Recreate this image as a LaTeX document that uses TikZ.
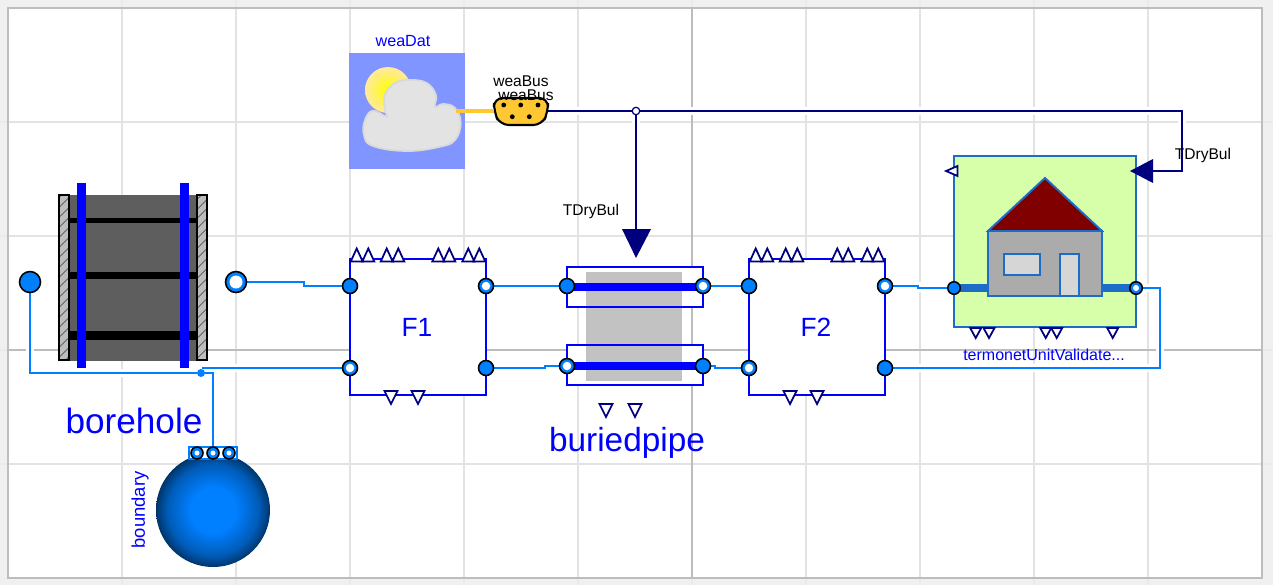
\documentclass[tikz,border=0pt]{standalone}
\usepackage{fontspec}
\setmainfont{Liberation Sans}
\usetikzlibrary{backgrounds,patterns.meta}
\definecolor{gridgray}{HTML}{E3E3E3}
\definecolor{gridout}{HTML}{EAEAEA}
\definecolor{framegray}{HTML}{BDBDBD}
\definecolor{fluid}{HTML}{007FFF}
\definecolor{navy}{HTML}{00007F}
\definecolor{houseblue}{HTML}{1C6CC8}
\definecolor{housegreen}{HTML}{D7FFAA}
\definecolor{skyblue}{HTML}{8095FF}
\definecolor{busorange}{HTML}{FFC832}
\definecolor{sunedge}{HTML}{FFE9A0}
\pgfdeclareradialshading{ballshade}{\pgfpoint{0bp}{0bp}}{color(0bp)=(fluid); color(10bp)=(fluid); color(20bp)=(fluid!72!black); color(25bp)=(fluid!42!black); color(28bp)=(black); color(50bp)=(black)}

\begin{document}
\begin{tikzpicture}[x=0.02cm,y=-0.02cm]

\tikzset{portfull/.style = {shape=circle,draw=black,line width=0.9pt,fill=fluid,minimum size=0.3cm,inner sep=0pt}}
\tikzset{portopen/.style = {shape=circle,draw=black,line width=0.9pt,fill=fluid,minimum size=0.3cm,inner sep=0pt,
  path picture={\fill[white] (path picture bounding box.center) circle (#1);}},portopen/.default=0.085cm}
\tikzset{wire/.style = {draw=fluid,line width=1.1pt,preaction={draw=white,line width=4.5pt}}}
\tikzset{sigline/.style = {draw=navy,line width=1.1pt,preaction={draw=white,line width=4.5pt}}}
\tikzset{modelbox/.style = {draw=blue,line width=1.1pt,fill=white}}
\tikzset{blueline/.style = {draw=blue,line width=4pt}}
\tikzset{housepart/.style = {draw=houseblue,line width=1.1pt}}
\tikzset{label/.style = {text=blue,inner sep=0pt}}
\tikzset{buslabel/.style = {text=black,inner sep=0pt,font=\fontsize{8.85}{10}\selectfont}}
\tikzset{wall/.style = {draw=black,line width=0.9pt,fill=framegray}}
\tikzset{triup/.pic = {\draw[navy,line width=1pt,fill=white] (-6,0) -- (6,0) -- (0,-13) -- cycle;}}
\tikzset{tridown/.pic = {\draw[navy,line width=1pt,fill=white] (-6.5,0) -- (6.5,0) -- (0,13) -- cycle;}}
\tikzset{trismall/.pic = {\draw[navy,line width=1pt,fill=white] (-5.5,0) -- (5.5,0) -- (0,10) -- cycle;}}

\useasboundingbox (0,0) rectangle (1273,585);

%background and grid
\begin{scope}[on background layer]
\fill[black!6] (0,0) rectangle (1273,585);
\foreach \x in {122,236,350,464,578,692,806,920,1034,1148}
  \draw[gridout,line width=1.1pt] (\x,0) -- (\x,585);
\foreach \y in {122,236,350,464}
  \draw[gridout,line width=1.1pt] (0,\y) -- (1273,\y);
\fill[white] (8,8) rectangle (1262,578);
\foreach \x in {122,236,350,464,578,806,920,1034,1148}
  \draw[gridgray,line width=1.1pt] (\x,8) -- (\x,578);
\foreach \y in {122,236,464}
  \draw[gridgray,line width=1.1pt] (8,\y) -- (1262,\y);
\draw[framegray,line width=1.1pt] (692,8) -- (692,578);
\draw[framegray,line width=1.1pt] (8,350) -- (1262,350);
\draw[framegray,line width=1.1pt] (8,8) rectangle (1262,578);
\end{scope}

%borehole
\fill[black!63] (68,195) rectangle (197,361);
\fill[black] (68,218) rectangle (197,222.7);
\fill[black] (68,272) rectangle (197,278.7);
\fill[black] (68,331) rectangle (197,340);
\draw[wall] (59,195) rectangle (69,360);
\draw[wall,pattern={Lines[angle=45,distance=4pt,line width=0.3pt]}] (59,195) rectangle (69,360);
\draw[wall] (197,195) rectangle (207,360);
\draw[wall,pattern={Lines[angle=45,distance=4pt,line width=0.3pt]}] (197,195) rectangle (207,360);
\fill[blue] (77,183) rectangle (86,368);
\fill[blue] (180,183) rectangle (189,368);
\node[label,font=\fontsize{20}{24}\selectfont] (boreholeLabel) at (134,421) {borehole};

%weather
\fill[skyblue] (349,53) rectangle (465,169);
\shade[inner color=yellow,outer color=sunedge] (388,90) circle (23);
\draw[black!15,fill=black!11,line width=1pt] plot[smooth cycle,tension=0.7] coordinates {
  (386.7,116.7) (373,110.7) (365,120) (364,135) (373,146) (407,151) (440,146.7) (455,140)
  (460.7,123) (455,108) (443,104) (435,106.7) (436,95) (426.7,83) (410,80) (395,83) (385,95) (385,110)};
\node[label,font=\fontsize{9.2}{11}\selectfont] (weaDatLabel) at (403,41) {weaDat};

%bus
\coordinate (weaOut) at (456,111);
\coordinate (busLeft) at (494,111);
\coordinate (busRight) at (548,111);
\draw[black,fill=busorange,line width=1.2pt,rounded corners=5pt]
  (494,98) -- (548,98) -- (548,112) -- (542,125) -- (500,125) -- (494,112) -- cycle;
\fill[black] (503.7,105) circle (2.4);
\fill[black] (520.7,105) circle (2.4);
\fill[black] (538,105) circle (2.4);
\fill[black] (512.3,116.7) circle (2.4);
\fill[black] (529.3,116.7) circle (2.4);
\node[buslabel] (busTextA) at (521,81) {weaBus};
\node[buslabel] (busTextB) at (526,95) {weaBus};

%F1
\draw[modelbox] (350,259) rectangle (486,395);
\node[label,font=\fontsize{15}{18}\selectfont] (f1Label) at (417,327) {F1};
\pic at (356.7,261.5) {triup};
\pic at (368.3,261.5) {triup};
\pic at (386.7,261.5) {triup};
\pic at (398.3,261.5) {triup};
\pic at (438.3,261.5) {triup};
\pic at (449.3,261.5) {triup};
\pic at (468.3,261.5) {triup};
\pic at (479.3,261.5) {triup};
\pic at (391,391) {tridown};
\pic at (418,391) {tridown};

%F2
\draw[modelbox] (749,259) rectangle (885,395);
\node[label,font=\fontsize{15}{18}\selectfont] (f2Label) at (816,327) {F2};
\pic at (755.7,261.5) {triup};
\pic at (767.3,261.5) {triup};
\pic at (785.7,261.5) {triup};
\pic at (797.3,261.5) {triup};
\pic at (837.3,261.5) {triup};
\pic at (848.3,261.5) {triup};
\pic at (867.3,261.5) {triup};
\pic at (878.3,261.5) {triup};
\pic at (790,391) {tridown};
\pic at (817,391) {tridown};

%buried pipe
\fill[white] (567,267) rectangle (703,307);
\fill[white] (567,345) rectangle (703,385);
\fill[black!24] (586,272) rectangle (682,381);
\draw[blue,line width=1.1pt] (567,267) rectangle (703,307);
\draw[blue,line width=1.1pt] (567,345) rectangle (703,385);
\draw[blueline] (567,287) -- (703,287);
\draw[blueline] (567,366) -- (703,366);
\pic at (606,404) {tridown};
\pic at (635,404) {tridown};
\node[label,font=\fontsize{19}{23}\selectfont] (pipeLabel) at (627,443) {buriedpipe};

%house
\draw[housepart,fill=housegreen] (954,156) rectangle (1136,327);
\draw[houseblue,line width=4pt] (954,288) -- (1136,288);
\draw[housepart,fill=black!33] (988,231) rectangle (1102,296);
\draw[housepart,fill=red!50!black] (988,231) -- (1045,178) -- (1102,231) -- cycle;
\draw[housepart,fill=black!16] (1004,254) rectangle (1040,275);
\draw[housepart,fill=black!16] (1060,254) rectangle (1079,296);
\draw[navy,line width=1pt,fill=white] (957.5,166) -- (957.5,176) -- (946,171) -- cycle;
\pic at (975.7,328) {trismall};
\pic at (989,328) {trismall};
\pic at (1045.7,328) {trismall};
\pic at (1056.7,328) {trismall};
\pic at (1112.7,328) {trismall};
\node[label,font=\fontsize{9.1}{11}\selectfont] (houseLabel) at (1044,355) {termonetUnitValidate...};

%boundary
\shade[shading=ballshade] (213,510) circle (57);
\draw[draw=fluid,line width=1.1pt,fill=white] (189,447) rectangle (237,459);
\node[label,font=\fontsize{10.5}{12}\selectfont,rotate=90] (boundaryLabel) at (140,510) {boundary};

%big signal arrows
\coordinate (pipeIn) at (636,230);
\coordinate (houseIn) at (1152,171);
\fill[navy] (622,229) -- (651,229) -- (636,258) -- cycle;
\fill[navy] (1153,159) -- (1153,183) -- (1130,171) -- cycle;
\node[buslabel] (tdbLeft) at (591,211) {TDryBul};
\node[buslabel] (tdbRight) at (1203,155) {TDryBul};

%ports
\node[portfull,minimum size=0.42cm] (portA) at (30,282) {};
\node[portopen=0.13cm,minimum size=0.42cm] (portB) at (236,282) {};
\node[portfull] (f1a) at (350,286) {};
\node[portopen] (f1b) at (486,286) {};
\node[portopen] (f1c) at (350,368) {};
\node[portfull] (f1d) at (486,368) {};
\node[portfull] (pipeA) at (567,286) {};
\node[portopen] (pipeB) at (703,286) {};
\node[portopen] (pipeC) at (567,366) {};
\node[portfull] (pipeD) at (703,366) {};
\node[portfull] (f2a) at (749,286) {};
\node[portopen] (f2b) at (885,286) {};
\node[portopen] (f2c) at (749,368) {};
\node[portfull] (f2d) at (885,368) {};
\node[portfull,minimum size=0.25cm] (houseA) at (954,288) {};
\node[portopen=0.06cm,minimum size=0.25cm] (houseB) at (1136,288) {};
\node[portopen=0.05cm,minimum size=0.24cm] (boundA) at (197,453) {};
\node[portopen=0.05cm,minimum size=0.24cm] (boundB) at (213,453) {};
\node[portopen=0.05cm,minimum size=0.24cm] (boundC) at (229,453) {};
\node[shape=circle,fill=fluid,minimum size=0.16cm,inner sep=0pt] (tee) at (201,373) {};
\node[shape=circle,draw=navy,line width=0.7pt,fill=white,minimum size=0.15cm,inner sep=0pt] (busTee) at (636,111) {};

%edges
\begin{scope}[on background layer]
\draw[wire] (portA) -- (30,373) -- (tee);
\draw[wire] (tee) -- (213,373) -- (boundB);
\draw[wire] (tee) ++(1,-5) -- (f1c);
\draw[wire] (portB) -- (304,282) -- (304,286) -- (f1a);
\draw[wire] (f1b) -- (pipeA);
\draw[wire] (f1d) -- (545,368) -- (545,366) -- (pipeC);
\draw[wire] (pipeB) -- (f2a);
\draw[wire] (pipeD) -- (715,366) -- (715,368) -- (f2c);
\draw[wire] (f2b) -- (918,286) -- (918,288) -- (houseA);
\draw[wire] (f2d) -- (1160,368) -- (1160,288) -- (houseB);
\draw[sigline] (busRight) -- (busTee);
\draw[sigline] (busTee) -- (pipeIn);
\draw[sigline] (busTee) -- (1182,111) -- (1182,171) -- (houseIn);
\end{scope}
\draw[draw=busorange,line width=1.8pt] (weaOut) -- (busLeft);

\end{tikzpicture}
\end{document}
